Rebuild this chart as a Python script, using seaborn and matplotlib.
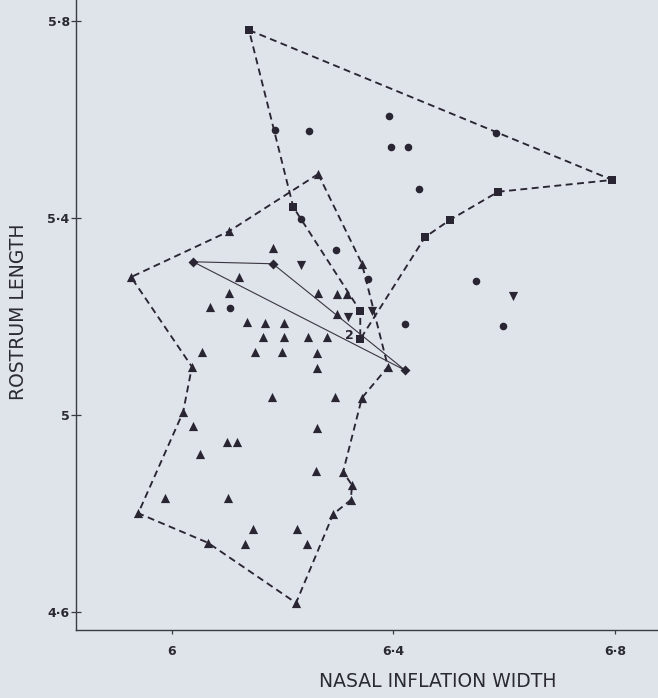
import matplotlib
matplotlib.use("Agg")
import matplotlib.pyplot as plt
import seaborn as sns
import pandas as pd

# ---- data ----
sq_x = [6.139, 6.219, 6.340, 6.340, 6.457, 6.502, 6.589, 6.795]
sq_y = [5.781, 5.422, 5.211, 5.154, 5.361, 5.396, 5.453, 5.477]
sq_hull = [0, 7, 6, 5, 4, 3, 2, 1, 0]

circ_x = [6.186, 6.247, 6.392, 6.395, 6.426, 6.446, 6.585, 6.233, 6.296,
          6.354, 6.549, 6.105, 6.421, 6.598]
circ_y = [5.578, 5.576, 5.607, 5.544, 5.544, 5.459, 5.572, 5.398, 5.335,
          5.276, 5.272, 5.217, 5.185, 5.181]

inv_x = [6.233, 6.318, 6.361, 6.616]
inv_y = [5.304, 5.199, 5.211, 5.242]

dia_x = [6.038, 6.182, 6.421]
dia_y = [5.311, 5.307, 5.091]
dia_links = [0, 1, 2, 0]

tri_x = [6.264, 6.103, 6.182, 5.926, 6.121, 6.103, 6.069, 6.264, 6.298, 6.316,
         6.343, 6.298, 6.135, 6.168, 6.202, 6.164, 6.202, 6.246, 6.280, 6.054,
         6.150, 6.199, 6.262, 6.036, 6.262, 6.390, 6.181, 6.294, 6.343, 6.020,
         6.038, 6.262, 6.099, 6.117, 6.051, 6.260, 6.309, 6.325, 6.323, 6.291,
         5.987, 6.101, 5.939, 6.146, 6.226, 6.065, 6.132, 6.244, 6.224]
tri_y = [5.489, 5.373, 5.339, 5.280, 5.280, 5.248, 5.219, 5.248, 5.246, 5.246,
         5.307, 5.205, 5.189, 5.187, 5.187, 5.158, 5.158, 5.158, 5.158, 5.128,
         5.128, 5.128, 5.126, 5.098, 5.096, 5.098, 5.037, 5.037, 5.035, 5.006,
         4.978, 4.974, 4.945, 4.945, 4.921, 4.887, 4.885, 4.858, 4.828, 4.799,
         4.832, 4.832, 4.801, 4.769, 4.769, 4.741, 4.739, 4.739, 4.619]
tri_hull = [0, 10, 25, 28, 36, 37, 38, 39, 48, 45, 42, 29, 23, 3, 1, 0]

count_label = "2"
count_at = 3  # index of square carrying the count

x_ticks = [6, 6.4, 6.8]
x_ticklabels = ["6", "6·4", "6·8"]
y_ticks = [4.6, 5, 5.4, 5.8]
y_ticklabels = ["4·6", "5", "5·4", "5·8"]
x_label = "NASAL INFLATION WIDTH"
y_label = "ROSTRUM LENGTH"

# ---- style ----
bg = "#dfe4eb"
ink = "#2a2532"
sns.set_style("ticks")
plt.rcParams["font.family"] = ["DejaVu Sans"]
plt.rcParams["lines.scale_dashes"] = False

fig = plt.figure(figsize=(6.58, 6.98), dpi=100, facecolor=bg)
ax = fig.add_axes([0.1155, 0.0974, 0.8845, 0.9026], facecolor=bg)

dash = (0, (5.0, 3.2))


def path(xs, ys, order):
    return [xs[i] for i in order], [ys[i] for i in order]


px, py = path(tri_x, tri_y, tri_hull)
ax.plot(px, py, color=ink, lw=1.35, linestyle=dash, zorder=2)
px, py = path(sq_x, sq_y, sq_hull)
ax.plot(px, py, color=ink, lw=1.35, linestyle=dash, zorder=2)
px, py = path(dia_x, dia_y, dia_links)
ax.plot(px, py, color="#3a3540", lw=0.8, linestyle="-", zorder=2)

df_tri = pd.DataFrame({"x": tri_x, "y": tri_y})
df_sq = pd.DataFrame({"x": sq_x, "y": sq_y})
df_c = pd.DataFrame({"x": circ_x, "y": circ_y})
df_v = pd.DataFrame({"x": inv_x, "y": inv_y})
df_d = pd.DataFrame({"x": dia_x, "y": dia_y})

common = dict(ax=ax, color=ink, linewidth=0, zorder=3, legend=False)
sns.scatterplot(data=df_tri, x="x", y="y", marker="^", s=44, **common)
sns.scatterplot(data=df_sq, x="x", y="y", marker="s", s=34, **common)
sns.scatterplot(data=df_c, x="x", y="y", marker="o", s=30, **common)
sns.scatterplot(data=df_v, x="x", y="y", marker="v", s=44, **common)
sns.scatterplot(data=df_d, x="x", y="y", marker="D", s=26, **common)

ax.annotate(count_label, (sq_x[count_at], sq_y[count_at]), xytext=(-5, 3),
            textcoords="offset points", ha="right", va="center",
            fontsize=9, fontweight="bold", color=ink, zorder=4)

ax.set_xlim(5.8266, 6.8777)
ax.set_ylim(4.5641, 5.842)
ax.set_xticks(x_ticks)
ax.set_xticklabels(x_ticklabels)
ax.set_yticks(y_ticks)
ax.set_yticklabels(y_ticklabels)

for s in ["top", "right"]:
    ax.spines[s].set_visible(False)
for s in ["left", "bottom"]:
    ax.spines[s].set_color("#3a3a42")
    ax.spines[s].set_linewidth(1.0)

ax.tick_params(axis="x", direction="out", length=3, width=0.9,
               colors="#3a3a42", labelsize=9, pad=8, labelcolor="#2a2a30")
ax.tick_params(axis="y", direction="inout", length=7, width=0.9,
               colors="#3a3a42", labelsize=9, pad=1, labelcolor="#2a2a30")
for lab in ax.get_xticklabels() + ax.get_yticklabels():
    lab.set_fontweight("bold")

ax.set_xlabel(x_label, fontsize=13.5, color="#2a2a30")
ax.set_ylabel(y_label, fontsize=13.5, color="#2a2a30")
ax.xaxis.set_label_coords((438 - 76) / 582, -(672 - 630) / 630)
ax.yaxis.set_label_coords(-(76 - 28) / 582, (630 - 312) / 630)

fig.savefig("out.png", dpi=100, facecolor=bg)
